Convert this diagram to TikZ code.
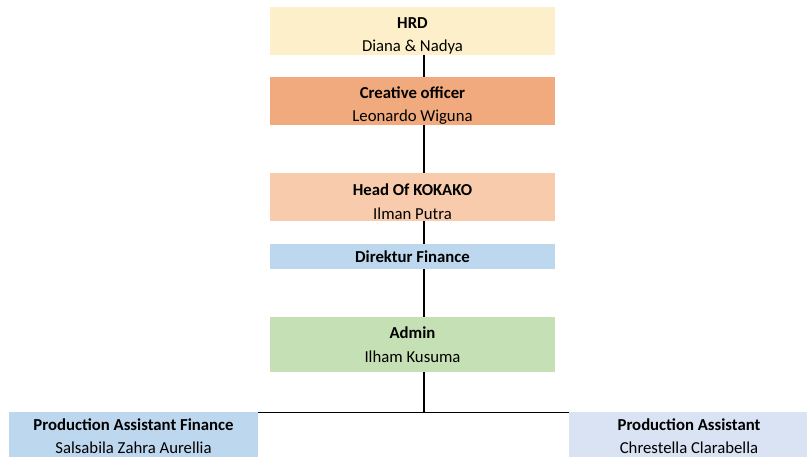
\documentclass[tikz,border=0pt]{standalone}
\usepackage{fontspec}
\setmainfont{Carlito}
\usetikzlibrary{backgrounds}
\definecolor{orghrd}{HTML}{FCEFC9}
\definecolor{orgcreative}{HTML}{F1AA7D}
\definecolor{orghead}{HTML}{F8CBAD}
\definecolor{orgfinance}{HTML}{BDD7EE}
\definecolor{orgadmin}{HTML}{C5E0B4}
\definecolor{orgassist}{HTML}{DAE3F3}
\newcommand{\toplift}{\rule{0pt}{21bp}}

\begin{document}
\begin{tikzpicture}[x=1bp, y=-1bp,
    orgbox/.style={draw=none, inner sep=0pt, align=center, minimum width=285bp,
        minimum height=48bp, font=\fontsize{16.8}{23.5}\selectfont},
    orgline/.style={line width=1.1pt}]
            \useasboundingbox (0,0) rectangle (807,457);

            % Chain of boxes
            \node[orgbox, fill=orghrd] (hrd) at (412.5,31) {\toplift\textbf{HRD}\\Diana \& Nadya};
            \node[orgbox, fill=orgcreative] (creative) at (412.5,101) {\toplift\textbf{Creative officer}\\Leonardo Wiguna};
            \node[orgbox, fill=orghead] (head) at (412.5,197) {\toplift\textbf{Head Of KOKAKO}\\Ilman Putra};
            \node[orgbox, fill=orgfinance, minimum height=25bp] (direktur) at (412.5,256.5) {\textbf{Direktur Finance}};
            \node[orgbox, fill=orgadmin, minimum height=55bp] (admin) at (412.5,344.5) {\textbf{Admin}\\Ilham Kusuma};

            % Bottom row
            \node[orgbox, fill=orgfinance, minimum width=249bp] (pafin) at (133.5,436) {\textbf{Production Assistant Finance}\\Salsabila Zahra Aurellia};
            \node[orgbox, fill=orgassist, minimum width=240bp] (pa) at (689,436) {\textbf{Production Assistant}\\Chrestella Clarabella};

            % Connectors
            \coordinate (trunk) at (424,412.7);
            \begin{scope}[on background layer]
                \draw[orgline] (hrd.south -| trunk) -- (trunk);
                \draw[orgline] (pafin.north east |- trunk) -- (pa.north west |- trunk);
            \end{scope}
        \end{tikzpicture}
\end{document}
